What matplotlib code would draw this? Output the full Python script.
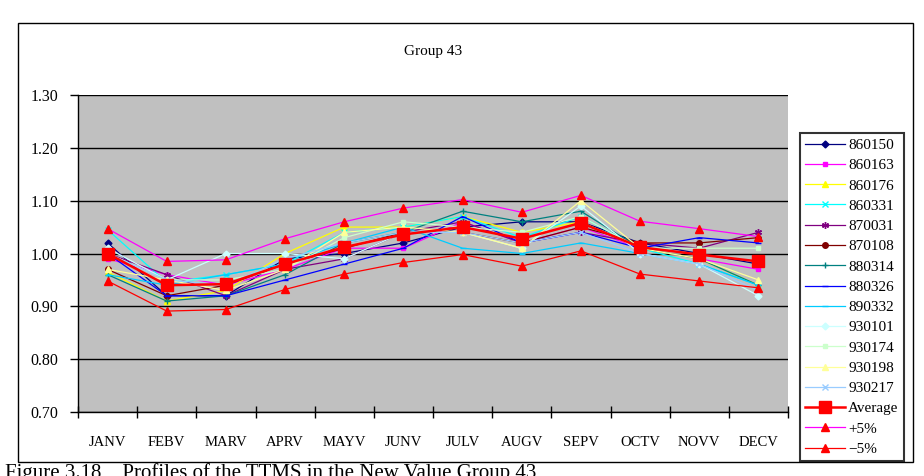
import matplotlib
matplotlib.use("Agg")
import matplotlib.pyplot as plt
from matplotlib.patches import Rectangle

months = ["JANV", "FEBV", "MARV", "APRV", "MAYV", "JUNV", "JULV", "AUGV", "SEPV", "OCTV", "NOVV", "DECV"]

s860150 = [1.020, 0.920, 0.920, 0.990, 1.000, 1.020, 1.050, 1.060, 1.060, 1.020, 1.000, 0.980]
s860163 = [0.990, 0.960, 0.940, 0.970, 1.010, 1.010, 1.060, 1.020, 1.050, 1.010, 0.990, 0.970]
s860176 = [0.965, 0.910, 0.930, 1.000, 1.050, 1.050, 1.070, 1.040, 1.060, 1.010, 0.990, 0.940]
s860331 = [1.045, 0.945, 0.960, 0.980, 1.040, 1.050, 1.070, 1.030, 1.070, 1.010, 0.980, 0.940]
s870031 = [1.000, 0.960, 0.920, 0.970, 0.990, 1.040, 1.060, 1.020, 1.040, 1.020, 1.010, 1.040]
s870108 = [0.970, 0.920, 0.940, 0.980, 1.010, 1.040, 1.040, 1.020, 1.050, 1.020, 1.020, 1.030]
s880314 = [0.960, 0.910, 0.920, 0.960, 1.020, 1.040, 1.080, 1.060, 1.080, 1.010, 0.990, 0.940]
s880326 = [1.000, 0.920, 0.920, 0.950, 0.980, 1.010, 1.070, 1.020, 1.040, 1.010, 1.030, 1.020]
s890332 = [0.960, 0.940, 0.960, 0.980, 1.020, 1.050, 1.010, 1.000, 1.020, 1.000, 0.980, 0.940]
s930101 = [1.010, 0.950, 1.000, 1.000, 0.990, 1.040, 1.040, 1.010, 1.090, 1.000, 0.980, 0.920]
s930174 = [1.000, 0.950, 0.950, 0.970, 1.030, 1.060, 1.050, 1.040, 1.070, 1.010, 1.010, 1.010]
s930198 = [0.970, 0.950, 0.930, 0.970, 1.040, 1.050, 1.040, 1.010, 1.100, 1.010, 0.990, 0.950]
s930217 = [1.000, 0.950, 0.940, 0.990, 1.020, 1.040, 1.040, 1.020, 1.040, 1.000, 0.980, 0.930]
average = [1.000, 0.940, 0.942, 0.980, 1.012, 1.036, 1.050, 1.028, 1.058, 1.012, 0.998, 0.985]
plus5 = [1.047, 0.985, 0.988, 1.028, 1.060, 1.086, 1.102, 1.078, 1.110, 1.061, 1.047, 1.032]
minus5 = [0.948, 0.891, 0.894, 0.932, 0.961, 0.983, 0.998, 0.976, 1.005, 0.961, 0.948, 0.935]

yticks = [0.70, 0.80, 0.90, 1.00, 1.10, 1.20, 1.30]

series = [
    ("860150", s860150, "#000080", "D", 3.5),
    ("860163", s860163, "#FF00FF", "s", 3.5),
    ("860176", s860176, "#FFFF00", "^", 4.0),
    ("860331", s860331, "#00FFFF", "x", 4.0),
    ("870031", s870031, "#800080", (6, 2, 0), 5.0),
    ("870108", s870108, "#800000", "o", 4.0),
    ("880314", s880314, "#008080", "+", 5.0),
    ("880326", s880326, "#0000FF", "_", 4.0),
    ("890332", s890332, "#00CCFF", "_", 4.0),
    ("930101", s930101, "#CCFFFF", "D", 3.5),
    ("930174", s930174, "#CCFFCC", "s", 3.5),
    ("930198", s930198, "#FFFF99", "^", 4.0),
    ("930217", s930217, "#99CCFF", "x", 4.0),
]

FONT = "Liberation Serif"

fig = plt.figure(figsize=(9.24, 4.76), dpi=100)
fig.patch.set_facecolor("white")

# outer chart frame
fig.add_artist(Rectangle((18 / 924, 1 - 462 / 476), 895 / 924, (462 - 23) / 476,
                         transform=fig.transFigure, fill=False, edgecolor="black", linewidth=1.0))

ax = fig.add_axes([78 / 924, 1 - 412 / 476, 710 / 924, 317 / 476])
ax.set_facecolor("#C0C0C0")

x = list(range(len(months)))
for name, vals, col, mk, ms in series:
    ax.plot(x, vals, color=col, marker=mk, markersize=ms, linewidth=0.9,
            markeredgecolor=col, markerfacecolor=col, label=name, zorder=3)

ax.plot(x, average, color="#FF0000", marker="s", markersize=8, linewidth=1.8,
        label="Average", zorder=4)
ax.plot(x, plus5, color="#FF00FF", marker="^", markersize=6, linewidth=0.9,
        markerfacecolor="#FF0000", markeredgecolor="#FF0000", label="+5%", zorder=4)
ax.plot(x, minus5, color="#FF0000", marker="^", markersize=6, linewidth=0.9,
        markerfacecolor="#FF0000", markeredgecolor="#FF0000", label="\u22125%", zorder=4)

ax.set_xlim(-0.5, len(months) - 0.5)
ax.set_ylim(0.70, 1.30)
ax.set_yticks(yticks)
ax.set_yticklabels(["%.2f" % v for v in yticks], fontfamily=FONT, fontsize=11.5)
ax.set_xticks(x)
ax.set_xticklabels(months, fontfamily=FONT, fontsize=10.5)
ax.set_xticks([i - 0.5 for i in range(len(months) + 1)], minor=True)
ax.tick_params(axis="x", which="major", length=0, pad=17)
ax.tick_params(axis="x", which="minor", direction="inout", length=8, width=1)
ax.tick_params(axis="y", direction="out", length=6, width=1, pad=8)

ax.grid(axis="y", color="black", linewidth=1.0, zorder=1)
ax.set_axisbelow(True)
for side in ("top", "right"):
    ax.spines[side].set_visible(False)
ax.spines["left"].set_linewidth(1.0)
ax.spines["bottom"].set_linewidth(1.0)

fig.text(433 / 924, 1 - 52 / 476, "Group 43", ha="center", va="center",
         fontfamily=FONT, fontsize=11)

leg = fig.legend(loc="upper left", bbox_to_anchor=(800 / 924, 1 - 133 / 476),
                 prop={"family": FONT, "size": 11}, frameon=True, fancybox=False,
                 edgecolor="black", handlelength=2.6, handletextpad=0.2,
                 labelspacing=0.43, borderpad=0.35, borderaxespad=0)
leg.get_frame().set_linewidth(1.5)

fig.text(5 / 924, 1 - 463 / 476, "Figure 3.18    Profiles of the TTMS in the New Value Group 43",
         ha="left", va="top", fontfamily=FONT, fontsize=15)

fig.savefig("out.png", dpi=100)
